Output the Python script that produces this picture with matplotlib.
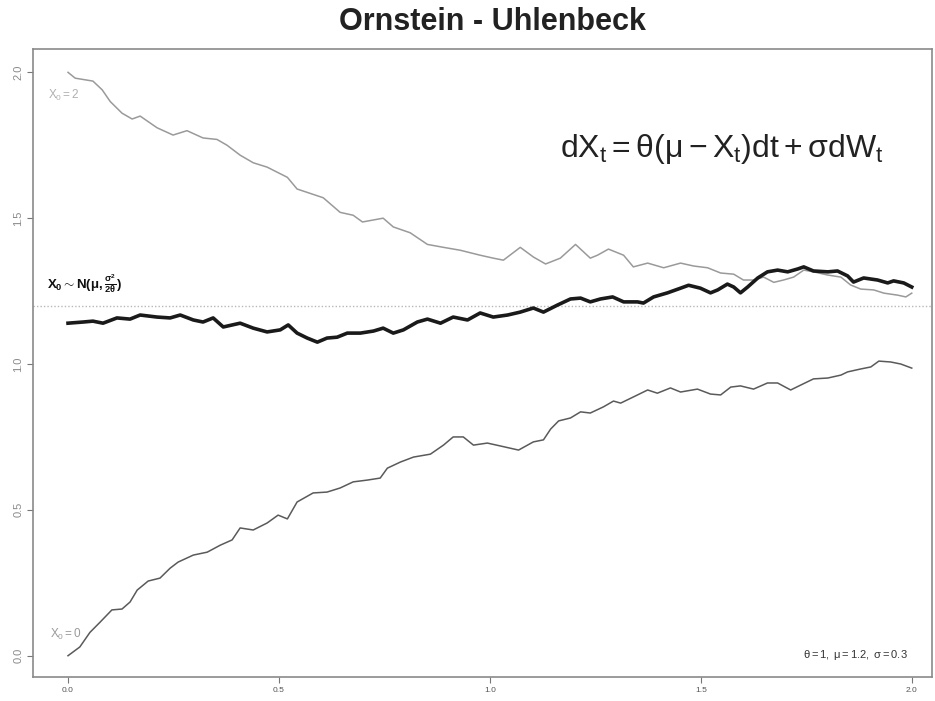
#!/usr/bin/env python3

import matplotlib
matplotlib.use("Agg")
import matplotlib.pyplot as plt

plt.rcParams['font.family'] = ['Liberation Sans', 'DejaVu Sans']
plt.rcParams['mathtext.fontset'] = 'custom'
plt.rcParams['mathtext.rm'] = 'Liberation Sans'
plt.rcParams['mathtext.it'] = 'Liberation Sans'
plt.rcParams['mathtext.bf'] = 'Liberation Sans:bold'

# parameters of the process
THETA, MU, SIGMA = 1, 1.2, 0.3

# path started at X0 = 2
t_high = [0.000, 0.017, 0.059, 0.081, 0.100, 0.128, 0.152, 0.171, 0.211, 0.249,
          0.282, 0.320, 0.353, 0.377, 0.408, 0.439, 0.472, 0.520, 0.543, 0.574,
          0.605, 0.645, 0.676, 0.698, 0.747, 0.771, 0.811, 0.852, 0.890, 0.930,
          0.977, 1.008, 1.032, 1.072, 1.103, 1.132, 1.167, 1.203, 1.238, 1.255,
          1.281, 1.317, 1.340, 1.374, 1.412, 1.452, 1.483, 1.516, 1.547, 1.578,
          1.601, 1.625, 1.649, 1.673, 1.696, 1.720, 1.744, 1.767, 1.801, 1.832,
          1.855, 1.879, 1.910, 1.934, 1.967, 1.986, 2.000]
x_high = [2.000, 1.980, 1.970, 1.940, 1.900, 1.860, 1.840, 1.850, 1.810, 1.785,
          1.800, 1.775, 1.770, 1.750, 1.716, 1.690, 1.675, 1.640, 1.600, 1.585,
          1.570, 1.520, 1.510, 1.487, 1.500, 1.470, 1.450, 1.410, 1.400, 1.390,
          1.373, 1.363, 1.356, 1.400, 1.367, 1.343, 1.363, 1.410, 1.363, 1.373,
          1.394, 1.373, 1.333, 1.346, 1.330, 1.346, 1.336, 1.330, 1.312, 1.308,
          1.288, 1.288, 1.298, 1.280, 1.288, 1.298, 1.322, 1.316, 1.305, 1.298,
          1.271, 1.257, 1.254, 1.243, 1.236, 1.230, 1.243]

# path started from the stationary law N(mu, sigma^2 / 2 theta)
t_stat = [0.000, 0.036, 0.059, 0.083, 0.116, 0.147, 0.171, 0.211, 0.242, 0.266,
          0.297, 0.320, 0.344, 0.368, 0.408, 0.439, 0.472, 0.503, 0.522, 0.543,
          0.567, 0.591, 0.614, 0.638, 0.662, 0.693, 0.724, 0.747, 0.771, 0.795,
          0.828, 0.852, 0.883, 0.913, 0.947, 0.977, 1.008, 1.042, 1.072, 1.103,
          1.127, 1.160, 1.191, 1.215, 1.238, 1.262, 1.291, 1.317, 1.350, 1.364,
          1.388, 1.421, 1.452, 1.471, 1.499, 1.523, 1.540, 1.563, 1.578, 1.594,
          1.611, 1.635, 1.658, 1.682, 1.706, 1.730, 1.744, 1.767, 1.801, 1.824,
          1.848, 1.862, 1.886, 1.919, 1.943, 1.957, 1.981, 2.000]
x_stat = [1.140, 1.144, 1.147, 1.140, 1.158, 1.154, 1.168, 1.161, 1.158, 1.168,
          1.151, 1.144, 1.158, 1.127, 1.140, 1.123, 1.110, 1.117, 1.134, 1.106,
          1.089, 1.075, 1.089, 1.092, 1.106, 1.106, 1.113, 1.123, 1.106, 1.117,
          1.144, 1.154, 1.140, 1.161, 1.151, 1.175, 1.161, 1.168, 1.178, 1.192,
          1.178, 1.202, 1.223, 1.226, 1.213, 1.223, 1.230, 1.213, 1.213, 1.209,
          1.230, 1.244, 1.260, 1.270, 1.260, 1.244, 1.254, 1.274, 1.264, 1.244,
          1.264, 1.295, 1.316, 1.322, 1.316, 1.326, 1.333, 1.319, 1.316, 1.319,
          1.302, 1.281, 1.295, 1.288, 1.278, 1.285, 1.278, 1.264]

# path started at X0 = 0
t_low = [0.000, 0.028, 0.052, 0.076, 0.104, 0.128, 0.147, 0.164, 0.190, 0.218,
         0.242, 0.261, 0.297, 0.330, 0.361, 0.389, 0.408, 0.439, 0.472, 0.498,
         0.520, 0.543, 0.581, 0.614, 0.645, 0.676, 0.709, 0.740, 0.757, 0.788,
         0.819, 0.859, 0.890, 0.913, 0.937, 0.961, 0.994, 1.025, 1.068, 1.103,
         1.127, 1.144, 1.163, 1.191, 1.215, 1.238, 1.269, 1.293, 1.310, 1.340,
         1.374, 1.397, 1.428, 1.452, 1.492, 1.523, 1.547, 1.571, 1.594, 1.625,
         1.658, 1.682, 1.713, 1.737, 1.767, 1.801, 1.832, 1.848, 1.879, 1.903,
         1.922, 1.950, 1.974, 2.000]
x_low = [0.000, 0.030, 0.080, 0.115, 0.157, 0.160, 0.184, 0.225, 0.256, 0.266,
         0.300, 0.321, 0.345, 0.355, 0.379, 0.397, 0.438, 0.431, 0.455, 0.482,
         0.469, 0.527, 0.558, 0.561, 0.575, 0.596, 0.602, 0.609, 0.643, 0.664,
         0.681, 0.691, 0.722, 0.750, 0.750, 0.722, 0.729, 0.719, 0.705, 0.733,
         0.740, 0.777, 0.805, 0.815, 0.836, 0.832, 0.853, 0.873, 0.866, 0.887,
         0.911, 0.900, 0.918, 0.904, 0.914, 0.897, 0.894, 0.921, 0.925, 0.914,
         0.935, 0.935, 0.911, 0.928, 0.949, 0.952, 0.962, 0.973, 0.983, 0.990,
         1.010, 1.007, 1.000, 0.986]

x_ticks = [0.0, 0.5, 1.0, 1.5, 2.0]
y_ticks = [0.0, 0.5, 1.0, 1.5, 2.0]


def create_plot():
    fig = plt.figure(figsize=(9.35, 7.01), dpi=100)
    ax = fig.add_axes([33 / 935, 24 / 701, (932 - 33) / 935, (677 - 49) / 701])

    ax.axhline(MU, color='#b8b8b8', linestyle=(0, (1, 1.5)), linewidth=1)

    ax.plot(t_high, x_high, color='#9a9a9a', linewidth=1.1)
    ax.plot(t_low, x_low, color='#5a5a5a', linewidth=1.1)
    ax.plot(t_stat, x_stat, color='#1a1a1a', linewidth=2.6)

    ax.set_xlim(-0.083, 2.048)
    ax.set_ylim(-0.073, 2.08)
    ax.set_xticks(x_ticks)
    ax.set_xticklabels([f'{v:.1f}' for v in x_ticks], fontsize=6, color='#555555')
    ax.set_yticks(y_ticks)
    ax.set_yticklabels([f'{v:.1f}' for v in y_ticks], fontsize=8, color='#8a8a8a',
                       rotation=90, va='center')
    ax.tick_params(direction='out', length=4, width=0.8, color='#777777', pad=3)

    for side in ['left', 'bottom', 'top', 'right']:
        ax.spines[side].set_color('#8a8a8a')
        ax.spines[side].set_linewidth(1.2)

    # annotations
    ax.text(-0.047, 1.92, r'$X_0 = 2$', fontsize=8.5, color='#b0b0b0', va='center')
    ax.text(-0.043, 0.072, r'$X_0 = 0$', fontsize=8.5, color='#9a9a9a', va='center')
    ax.text(-0.05, 1.275, r'$\mathbf{X_0\sim N(\mu,\frac{\sigma^2}{2\theta})}$',
            fontsize=9.5, color='#111111', va='center')
    ax.text(0.973, 0.035, rf'$\theta = {THETA},\ \mu = {MU},\ \sigma = {SIGMA}$',
            fontsize=8, color='#333333', ha='right', va='center',
            transform=ax.transAxes)

    fig.text(560 / 935, 1 - 157 / 701,
             r'$\mathrm{dX_t = \theta(\mu - X_t)dt + \sigma dW_t}$',
             fontsize=23, color='#222222', ha='left', va='baseline')

    fig.text(492 / 935, 1 - 22 / 701, 'Ornstein - Uhlenbeck', fontsize=22,
             fontweight='bold', color='#222222', ha='center', va='center')

    plt.savefig('out.png', dpi=100)


if __name__ == '__main__':
    create_plot()
